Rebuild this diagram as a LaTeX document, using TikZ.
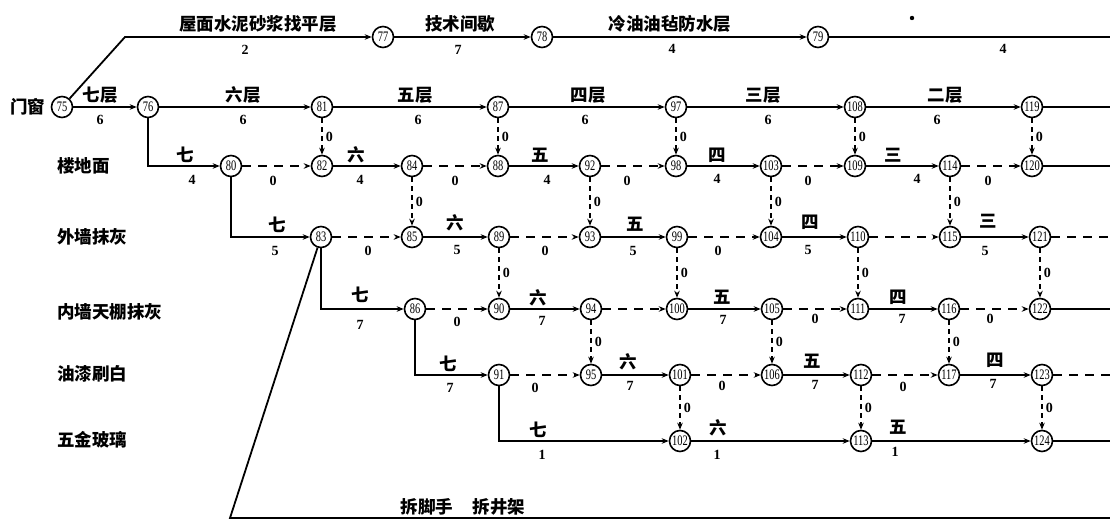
\documentclass[tikz,border=0pt]{standalone}
\usepackage{fontspec}
\setmainfont{Liberation Serif}
\newfontfamily\cjk{Noto Sans CJK SC}
\usetikzlibrary{arrows.meta}
\newcounter{lbc}
\newcommand\evt[3]{\node[ev] (n#1) at (#2,#3) {\scalebox{0.72}[1]{#1}};}
\newcommand\cnl[3]{\stepcounter{lbc}\node[cn] (c\thelbc) at (#1,#2) {#3};}
\newcommand\nml[3]{\stepcounter{lbc}\node[num] (c\thelbc) at (#1,#2) {#3};}
\newcommand\rowl[3]{\stepcounter{lbc}\node[cn,anchor=west] (c\thelbc) at (#1,#2) {#3};}
\begin{document}
\begin{tikzpicture}[x=1pt,y=-1pt,
 ev/.style={circle,draw,line width=1.6pt,minimum size=21pt,inner sep=0pt,fill=white,font=\fontsize{14.5}{14.5}\selectfont},
 act/.style={line width=1.8pt,-{Stealth[length=7pt,width=5.5pt]}},
 plain/.style={line width=1.8pt},
 dum/.style={line width=1.8pt,dash pattern=on 9pt off 7pt,-{Stealth[length=7pt,width=5.5pt]}},
 ddash/.style={line width=1.8pt,dash pattern=on 9pt off 7pt},
 vdum/.style={line width=1.6pt,dash pattern=on 5pt off 4pt,-{Stealth[length=7pt,width=5.5pt]}},
 cn/.style={font=\cjk\bfseries\fontsize{17.5}{17.5}\selectfont,inner sep=0pt},
 num/.style={font=\bfseries\fontsize{14}{14}\selectfont,inner sep=0pt},
 zr/.style={font=\bfseries\fontsize{14}{14}\selectfont,inner sep=0pt,right=3pt},
]
\useasboundingbox[fill=white] (0,0) rectangle (1110,521);
% events
\evt{77}{383}{37}\evt{78}{542}{37}\evt{79}{818}{37}
\evt{75}{62}{107}\evt{76}{148}{107}\evt{81}{322}{107}\evt{87}{498}{107}\evt{97}{676}{107}\evt{108}{855}{107}\evt{119}{1032}{107}
\evt{80}{231}{166}\evt{82}{322}{166}\evt{84}{412}{166}\evt{88}{498}{166}\evt{92}{590}{166}\evt{98}{676}{166}\evt{103}{771}{166}\evt{109}{855}{166}\evt{114}{950}{166}\evt{120}{1032}{166}
\evt{83}{321}{237}\evt{85}{412}{237}\evt{89}{499}{237}\evt{93}{590}{237}\evt{99}{677}{237}\evt{104}{771}{237}\evt{110}{858}{237}\evt{115}{950}{237}\evt{121}{1040}{237}
\evt{86}{415}{309}\evt{90}{499}{309}\evt{94}{591}{309}\evt{100}{677}{309}\evt{105}{772}{309}\evt{111}{858}{309}\evt{116}{949}{309}\evt{122}{1040}{309}
\evt{91}{499}{375}\evt{95}{591}{375}\evt{101}{680}{375}\evt{106}{772}{375}\evt{112}{861}{375}\evt{117}{949}{375}\evt{123}{1042}{375}
\evt{102}{680}{441}\evt{113}{861}{441}\evt{124}{1042}{441}
% free ends
\coordinate (k0) at (125,37);
\coordinate (r0) at (1110,37);
\coordinate (r1) at (1110,107);
\coordinate (r2) at (1110,166);
\coordinate (r3) at (1110,237);
\coordinate (r4) at (1110,309);
\coordinate (r5) at (1110,375);
\coordinate (r6) at (1110,441);
\coordinate (b1) at (230,518);
\coordinate (b2) at (1110,518);
% row 0
\draw[act] (n75) -- (k0) -- (n77);
\draw[act] (n77) -- (n78);
\draw[act] (n78) -- (n79);
\draw[plain] (n79) -- (r0);
% row 1
\draw[act] (n75) -- (n76);
\draw[act] (n76) -- (n81);
\draw[act] (n81) -- (n87);
\draw[act] (n87) -- (n97);
\draw[act] (n97) -- (n108);
\draw[act] (n108) -- (n119);
\draw[plain] (n119) -- (r1);
% row 2
\draw[act] (n76) |- (n80);
\draw[dum] (n80) -- (n82);
\draw[act] (n82) -- (n84);
\draw[dum] (n84) -- (n88);
\draw[act] (n88) -- (n92);
\draw[dum] (n92) -- (n98);
\draw[act] (n98) -- (n103);
\draw[dum] (n103) -- (n109);
\draw[act] (n109) -- (n114);
\draw[dum] (n114) -- (n120);
\draw[plain] (n120) -- (r2);
% row 3
\draw[act] (n80) |- (n83);
\draw[dum] (n83) -- (n85);
\draw[act] (n85) -- (n89);
\draw[dum] (n89) -- (n93);
\draw[act] (n93) -- (n99);
\draw[dum] (n99) -- (n104);
\draw[act] (n104) -- (n110);
\draw[dum] (n110) -- (n115);
\draw[act] (n115) -- (n121);
\draw[ddash] (n121) -- (r3);
% row 4
\draw[act] (n83) |- (n86);
\draw[dum] (n86) -- (n90);
\draw[act] (n90) -- (n94);
\draw[dum] (n94) -- (n100);
\draw[act] (n100) -- (n105);
\draw[dum] (n105) -- (n111);
\draw[act] (n111) -- (n116);
\draw[dum] (n116) -- (n122);
\draw[plain] (n122) -- (r4);
% row 5
\draw[act] (n86) |- (n91);
\draw[dum] (n91) -- (n95);
\draw[act] (n95) -- (n101);
\draw[dum] (n101) -- (n106);
\draw[act] (n106) -- (n112);
\draw[dum] (n112) -- (n117);
\draw[act] (n117) -- (n123);
\draw[ddash] (n123) -- (r5);
% row 6
\draw[act] (n91) |- (n102);
\draw[act] (n102) -- (n113);
\draw[act] (n113) -- (n124);
\draw[plain] (n124) -- (r6);
% bottom
\draw[plain] (n83) -- (b1) -- (b2);
% vertical dummies
\draw[vdum] (n81) -- node[zr] (z1) {0} (n82);
\draw[vdum] (n87) -- node[zr] (z2) {0} (n88);
\draw[vdum] (n97) -- node[zr] (z3) {0} (n98);
\draw[vdum] (n108) -- node[zr] (z4) {0} (n109);
\draw[vdum] (n119) -- node[zr] (z5) {0} (n120);
\draw[vdum] (n84) -- node[zr] (z6) {0} (n85);
\draw[vdum] (n92) -- node[zr] (z7) {0} (n93);
\draw[vdum] (n103) -- node[zr] (z8) {0} (n104);
\draw[vdum] (n114) -- node[zr] (z9) {0} (n115);
\draw[vdum] (n89) -- node[zr] (z10) {0} (n90);
\draw[vdum] (n99) -- node[zr] (z11) {0} (n100);
\draw[vdum] (n110) -- node[zr] (z12) {0} (n111);
\draw[vdum] (n121) -- node[zr] (z13) {0} (n122);
\draw[vdum] (n94) -- node[zr] (z14) {0} (n95);
\draw[vdum] (n105) -- node[zr] (z15) {0} (n106);
\draw[vdum] (n116) -- node[zr] (z16) {0} (n117);
\draw[vdum] (n101) -- node[zr] (z17) {0} (n102);
\draw[vdum] (n112) -- node[zr] (z18) {0} (n113);
\draw[vdum] (n123) -- node[zr] (z19) {0} (n124);
% row labels
\rowl{10}{107}{门窗}
\rowl{57}{166}{楼地面}
\rowl{57}{237}{外墙抹灰}
\rowl{57}{312}{内墙天棚抹灰}
\rowl{57}{374}{油漆刷白}
\rowl{57}{440}{五金玻璃}
% row 0 labels
\cnl{258}{24}{屋面水泥砂浆找平层}\nml{245}{50}{2}
\cnl{460}{24}{技术间歇}\nml{458}{50}{7}
\cnl{670}{24}{冷油油毡防水层}\nml{672}{49}{4}
\nml{1003}{49}{4}
% row 1 labels
\cnl{100}{95}{七层}\nml{100}{120}{6}
\cnl{243}{95}{六层}\nml{243}{120}{6}
\cnl{415}{95}{五层}\nml{418}{120}{6}
\cnl{588}{95}{四层}\nml{585}{120}{6}
\cnl{763}{95}{三层}\nml{768}{120}{6}
\cnl{945}{95}{二层}\nml{937}{120}{6}
% row 2 labels
\cnl{185}{155}{七}\nml{192}{180}{4}
\cnl{356}{155}{六}\nml{360}{180}{4}
\cnl{540}{155}{五}\nml{547}{180}{4}
\cnl{717}{155}{四}\nml{717}{179}{4}
\cnl{893}{155}{三}\nml{917}{179}{4}
\nml{273}{181}{0}\nml{455}{181}{0}\nml{627}{181}{0}\nml{808}{181}{0}\nml{988}{181}{0}
% row 3 labels
\cnl{277}{225}{七}\nml{275}{251}{5}
\cnl{455}{223}{六}\nml{457}{250}{5}
\cnl{635}{224}{五}\nml{633}{251}{5}
\cnl{810}{222}{四}\nml{808}{250}{5}
\cnl{988}{221}{三}\nml{985}{251}{5}
\nml{368}{251}{0}\nml{545}{251}{0}\nml{718}{251}{0}
% row 4 labels
\cnl{360}{295}{七}\nml{360}{325}{7}
\cnl{538}{298}{六}\nml{542}{321}{7}
\cnl{722}{297}{五}\nml{723}{320}{7}
\cnl{898}{297}{四}\nml{902}{319}{7}
\nml{457}{322}{0}\nml{815}{319}{0}\nml{990}{319}{0}
% row 5 labels
\cnl{448}{364}{七}\nml{450}{388}{7}
\cnl{628}{362}{六}\nml{630}{386}{7}
\cnl{812}{361}{五}\nml{815}{385}{7}
\cnl{995}{360}{四}\nml{993}{384}{7}
\nml{535}{388}{0}\nml{722}{386}{0}\nml{903}{387}{0}
% row 6 labels
\cnl{538}{430}{七}\nml{542}{455}{1}
\cnl{718}{428}{六}\nml{717}{455}{1}
\cnl{898}{427}{五}\nml{895}{452}{1}
% bottom label
\cnl{463}{507}{拆脚手\hspace{20pt}拆井架}
% speck
\fill (912,18) circle (2.2pt);
\end{tikzpicture}
\end{document}
